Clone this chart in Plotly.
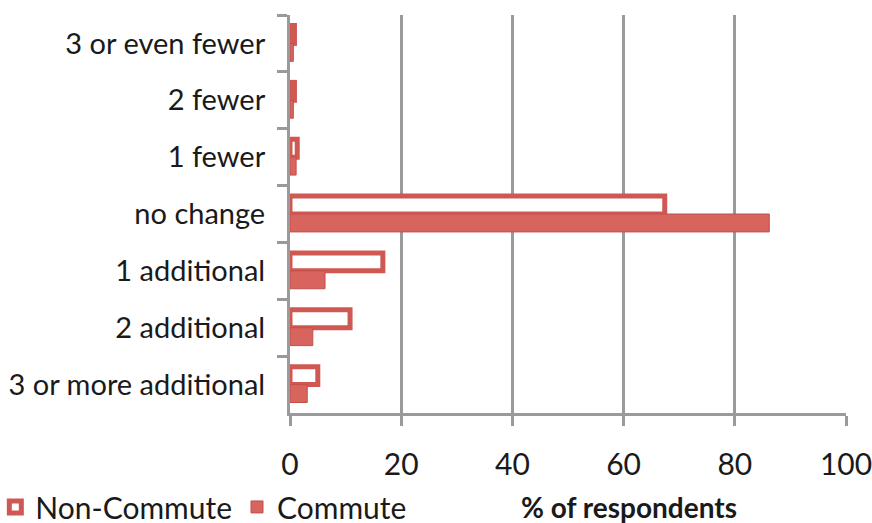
import plotly.graph_objects as go

categories = ["3 or even fewer", "2 fewer", "1 fewer", "no change",
              "1 additional", "2 additional", "3 or more additional"]
non_commute = [0.8, 0.8, 1.3, 67.4, 16.7, 10.8, 5.0]
commute = [0.6, 0.6, 1.1, 86.2, 6.3, 4.1, 3.1]
x_ticks = [0, 20, 40, 60, 80, 100]

RED = "#d8645e"
EDGE = "#cf5852"
GRID = "#9a9a9a"
FONT = "Lato"

fig = go.Figure()
fig.add_trace(go.Bar(
    y=categories, x=non_commute, orientation="h", name="Non-Commute",
    marker=dict(color="white", line=dict(color=EDGE, width=5)),
))
fig.add_trace(go.Bar(
    y=categories, x=commute, orientation="h", name="Commute",
    marker=dict(color=RED, line=dict(color="#c44f4a", width=1)),
))

fig.update_layout(
    width=872, height=523,
    margin=dict(l=290, r=26, t=15, b=110, autoexpand=False),
    paper_bgcolor="white", plot_bgcolor="white",
    barmode="group", bargap=0.37, bargroupgap=0.0,
    font=dict(family=FONT, size=31, color="#1a1a1a"),
    showlegend=True,
    legend=dict(orientation="h", xref="paper", yref="paper",
                x=-0.53, y=-0.236, xanchor="left", yanchor="middle",
                font=dict(size=30), itemwidth=30, traceorder="normal",
                bgcolor="rgba(0,0,0,0)"),
    xaxis=dict(range=[0, 100], tickvals=x_ticks, showgrid=True,
               gridcolor=GRID, gridwidth=3, zeroline=False,
               showline=True, linecolor=GRID, linewidth=3,
               ticks="outside", ticklen=10, tickwidth=3, tickcolor=GRID,
               ticklabelstandoff=13, tickfont=dict(size=30),
               ticklabeloverflow="allow", automargin=False),
    yaxis=dict(categoryorder="array", categoryarray=categories,
               autorange="reversed", showline=True, linecolor=GRID,
               linewidth=3, ticks="outside", tickson="boundaries",
               ticklen=10, tickwidth=3, tickcolor=GRID, showgrid=False,
               ticklabelstandoff=16, tickfont=dict(size=29),
               ticklabeloverflow="allow", automargin=False),
    annotations=[dict(text="<b>% of respondents</b>", xref="paper", yref="paper",
                      x=0.61, y=-0.236, xanchor="center", yanchor="middle",
                      showarrow=False, font=dict(size=28, family=FONT))],
)

fig.write_html("out.html", config={"displayModeBar": False},
               post_script="document.body.style.margin='0';")
